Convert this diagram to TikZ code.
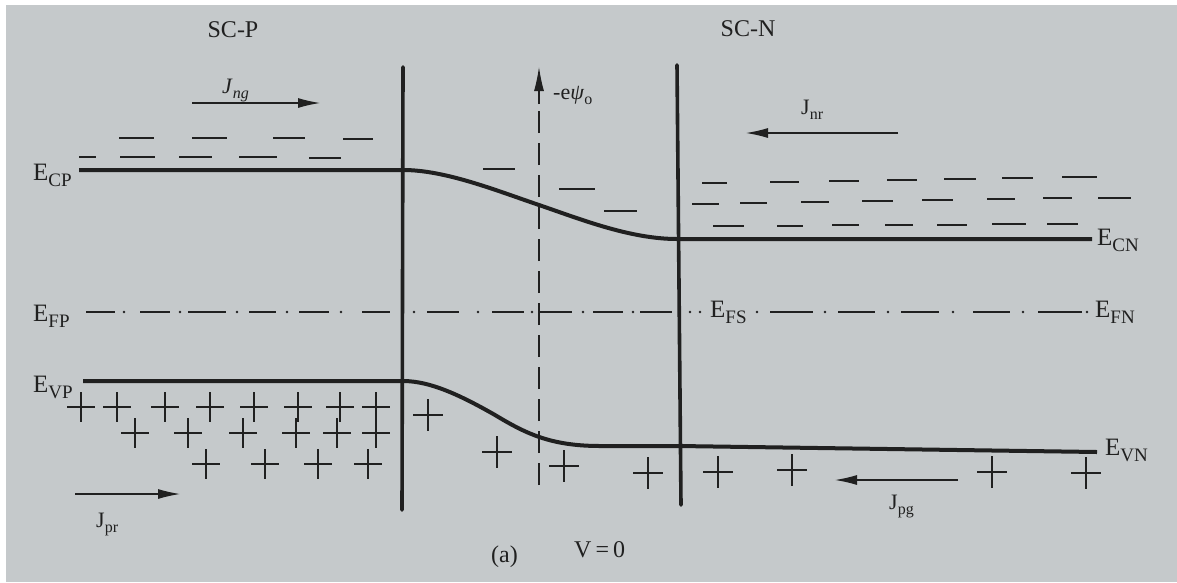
\documentclass[tikz,border=0pt]{standalone}
\usepackage{fontspec}
\setmainfont{Liberation Serif}
\usetikzlibrary{arrows.meta}
\definecolor{paper}{RGB}{197,201,203}
\definecolor{ink}{RGB}{32,32,32}
\newcommand{\El}[1]{{\fontsize{25}{28}\selectfont E}\raisebox{-6pt}{\fontsize{19}{21}\selectfont #1}}
\newcommand{\Jl}[2]{{\fontsize{22}{24}\selectfont #1}\raisebox{-5pt}{\fontsize{16}{18}\selectfont #2}}
\begin{document}
\begin{tikzpicture}[x=1pt,y=-1pt,
  lab/.style={inner sep=0pt,text=ink},
  band/.style={line width=4pt,draw=ink},
  wall/.style={line width=3.6pt,draw=ink,line cap=round},
  elec/.style={line width=2.4pt,draw=ink},
  plus/.style={line width=2.4pt,draw=ink},
  flux/.style={line width=1.1pt,draw=ink,-{Latex[length=22pt,width=10pt]}},
  fermi/.style={line width=2.4pt,draw=ink}]
\useasboundingbox (0,0) rectangle (1177,582);
\fill[white] (0,0) rectangle (1177,582);
\fill[paper] (6,5) rectangle (1177,582);

% titles
\node[lab,font=\fontsize{24}{26}\selectfont] (scp) at (233,30) {SC-P};
\node[lab,font=\fontsize{24}{26}\selectfont] (scn) at (748,29) {SC-N};

% junction walls
\coordinate (wlt) at (403,67); \coordinate (wlb) at (402,510);
\coordinate (wrt) at (677,65); \coordinate (wrb) at (681,505);
\draw[wall] (wlt) -- (wlb);
\draw[wall] (wrt) -- (wrb);

% potential axis
\coordinate (pb) at (539,485); \coordinate (pm) at (539,100); \coordinate (pt) at (539,67);
\draw[line width=1.1pt,draw=ink,dash pattern=on 22pt off 10pt] (pb) -- (pm);
\draw[line width=1.1pt,draw=ink,-{Latex[length=24pt,width=10pt]}] (539,104) -- (pt);
\node[lab,anchor=base west] (psi) at (553,99) {{\fontsize{22}{24}\selectfont -e\textit{ψ}}\raisebox{-5pt}{\fontsize{16}{18}\selectfont o}};

% conduction band
\coordinate (c0) at (79,170); \coordinate (c1) at (403,170);
\coordinate (cm) at (539,205); \coordinate (c2) at (677,239); \coordinate (c3) at (1092,239);
\draw[band] (c0) -- (c1) .. controls (445,170) and (495,190) .. (cm)
  .. controls (580,219) and (630,239) .. (c2) -- (c3);

% valence band
\coordinate (v0) at (83,381); \coordinate (v1) at (403,381);
\coordinate (vm) at (495,415); \coordinate (v2) at (600,446); \coordinate (v3) at (679,446); \coordinate (v4) at (1097,452);
\draw[band] (v0) -- (v1) .. controls (430,381) and (460,395) .. (vm)
  .. controls (525,433) and (550,446) .. (v2) -- (v3) -- (v4);

% Fermi level (dash-dot)
\foreach \a/\b in {86/115,140/170,188/226,249/276,299/329,362/390,427/459,492/524,540/572,593/623,640/672,770/813,838/875,901/939,973/1010,1038/1082}
  \draw[fermi] (\a,312) -- (\b,312);
\foreach \d in {124,180,237,287,341,414,478,532,583,633,690,700,757,825,888,953,1023,1087}
  \fill[ink] (\d,312) circle (1.4pt);

% labels of levels
\node[lab,anchor=base west] (ecp) at (33,180) {\El{CP}};
\node[lab,anchor=base west] (efp) at (33,321) {\El{FP}};
\node[lab,anchor=base west] (evp) at (33,392) {\El{VP}};
\node[lab,anchor=base west] (ecn) at (1097,245) {\El{CN}};
\node[lab,anchor=base west] (efn) at (1095,317) {\El{FN}};
\node[lab,anchor=base west] (evn) at (1105,455) {\El{VN}};
\node[lab,anchor=base west] (efs) at (710,317) {\El{FS}};

% electrons
\foreach \a/\b/\y in {119/154/138,192/227/138,273/305/138,343/373/139,
  79/96/157,120/155/157,179/212/157,239/277/157,309/341/158,
  483/515/169,559/595/189,604/637/211,
  702/727/183,770/799/182,829/859/181,887/917/180,944/976/179,1002/1033/178,1062/1097/177,
  692/719/204,740/767/203,801/829/202,862/893/201,922/953/200,987/1015/199,1043/1072/198,1098/1131/198,
  713/744/226,777/803/226,832/859/225,885/913/225,937/967/225,992/1026/224,1047/1078/224}
  \draw[elec] (\a,\y) -- (\b,\y);

% holes
\foreach \x/\y in {81/407,117/407,165/407,210/407,254/407,298/407,340/407,376/407,
  135/433,188/433,243/433,296/433,337/433,376/433,
  206/464,265/464,318/464,368/464}
  \draw[plus] ({\x-14},\y) -- ({\x+14},\y) (\x,{\y-15}) -- (\x,{\y+15});
\foreach \x/\y in {428/415,497/452,564/466,648/473,718/472,792/470,992/472,1086/473}
  \draw[plus] ({\x-15},\y) -- ({\x+15},\y) (\x,{\y-16}) -- (\x,{\y+16});

% current arrows
\coordinate (ngt) at (192,103); \coordinate (ngh) at (320,103);
\draw[flux] (ngt) -- (ngh);
\node[lab,anchor=base west] (jng) at (222,93) {\Jl{\textit{J}}{\textit{ng}}};
\coordinate (nrt) at (898,133); \coordinate (nrh) at (746,133);
\draw[flux] (nrt) -- (nrh);
\node[lab,anchor=base west] (jnr) at (801,114) {\Jl{J}{nr}};
\coordinate (prt) at (75,494); \coordinate (prh) at (180,494);
\draw[flux] (prt) -- (prh);
\node[lab,anchor=base west] (jpr) at (96,527) {\Jl{J}{pr}};
\coordinate (pgt) at (958,480); \coordinate (pgh) at (835,480);
\draw[flux] (pgt) -- (pgh);
\node[lab,anchor=base west] (jpg) at (889,509) {\Jl{J}{pg}};

% caption
\node[lab,anchor=base west,font=\fontsize{24}{26}\selectfont] (capa) at (491,562) {(a)};
\node[lab,anchor=base west,font=\fontsize{24}{26}\selectfont] (capv) at (574,557) {V\,=\,0};
\end{tikzpicture}
\end{document}
